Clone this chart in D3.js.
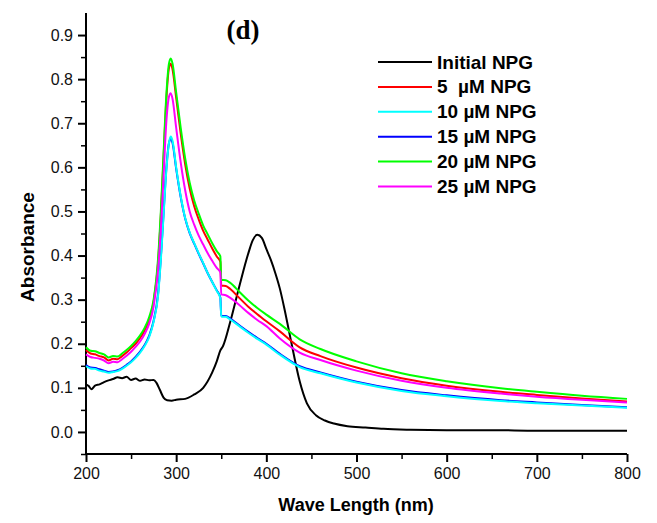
<!DOCTYPE html>
<html>
<head>
<meta charset="utf-8">
<script src="https://cdn.jsdelivr.net/npm/d3@7"></script>
<style>
  body { margin: 0; background: #fff; }
  svg { display: block; }
  .tick text { font-family: "Liberation Sans", Arial, sans-serif; font-size: 16px; fill: #111; }
</style>
</head>
<body>
<svg id="chart" width="657" height="523"></svg>
<script>
// wavelengths shared by the NPG-added spectra
const wl = [200, 205, 210, 215, 220, 225, 230, 235, 240, 245, 250, 255, 260, 265, 270, 275, 280,
  283, 286, 289, 292, 294, 296, 300, 305, 310, 315, 320, 325, 330, 335, 340, 345, 349, 350,
  355, 360, 370, 380, 390, 400, 415, 437, 460, 500, 550, 600, 660, 700, 750, 800];

const red5 = [.186, .178, .176, .172, .169, .162, .166, .165, .172, .18, .19, .2, .213, .23, .254, .295, .385,
  .49, .62, .75, .825, .835, .822, .758, .677, .607, .552, .512, .482, .456, .436, .416, .398, .386, .332,
  .331, .324, .304, .284, .267, .251, .228, .192, .172, .146, .122, .105, .091, .084, .076, .069];
const cyan10 = [.149, .144, .143, .139, .137, .134, .136, .138, .143, .15, .158, .168, .18, .195, .215, .25, .31,
  .39, .49, .59, .655, .67, .66, .6, .535, .485, .452, .428, .405, .383, .36, .34, .32, .303, .262,
  .261, .255, .24, .225, .211, .198, .175, .147, .133, .112, .093, .081, .07, .065, .06, .055];
const blue15 = [.152, .146, .145, .142, .139, .136, .137, .14, .145, .152, .16, .17, .182, .197, .218, .252, .315,
  .395, .495, .595, .655, .665, .655, .597, .533, .484, .451, .427, .404, .382, .36, .34, .321, .305, .263,
  .263, .257, .242, .227, .213, .2, .177, .149, .135, .114, .095, .083, .072, .067, .061, .056];
const green20 = [.192, .184, .183, .179, .176, .169, .172, .171, .178, .186, .195, .206, .219, .236, .26, .3, .395,
  .5, .63, .76, .835, .847, .835, .77, .69, .62, .565, .525, .495, .468, .448, .428, .41, .398, .345,
  .344, .338, .318, .298, .281, .266, .245, .21, .188, .16, .133, .115, .099, .091, .082, .075];
const magenta25 = [.176, .17, .168, .166, .162, .156, .159, .158, .165, .173, .182, .193, .205, .222, .245, .285, .37,
  .46, .58, .7, .76, .768, .755, .69, .612, .548, .5, .47, .445, .425, .405, .388, .372, .362, .312,
  .31, .304, .288, .27, .254, .24, .212, .18, .163, .139, .116, .1, .087, .08, .073, .067];

// initial NPG spectrum
const wlInit = [200, 203, 206, 210, 215, 220, 225, 230, 235, 240, 245, 250, 255, 260, 265, 270, 275, 278,
  282, 286, 290, 295, 300, 310, 320, 330, 340, 345, 349, 352, 360, 370, 380, 385, 390, 395, 400, 405,
  410, 415, 420, 425, 430, 437, 445, 455, 465, 475, 490, 510, 530, 560, 600, 650, 700, 750, 800];
const initial = [.108, .104, .097, .105, .108, .113, .117, .12, .124, .122, .125, .118, .121, .116, .119, .117, .118, .112,
  .095, .078, .072, .071, .073, .075, .085, .1, .135, .16, .185, .195, .25, .33, .405, .435, .447, .44, .415, .39,
  .36, .325, .28, .23, .18, .115, .065, .038, .026, .019, .013, .01, .007, .005, .004, .004, .003, .003, .003];

const seriesNames = ['Initial NPG', '5  \u00b5M NPG', '10 \u00b5M NPG', '15 \u00b5M NPG', '20 \u00b5M NPG', '25 \u00b5M NPG'];
const seriesColors = ['#000000', '#ff0000', '#00ffff', '#0000ff', '#00ff00', '#ff00ff'];
const xTicks = [200, 300, 400, 500, 600, 700, 800];
const yTicks = [0.0, 0.1, 0.2, 0.3, 0.4, 0.5, 0.6, 0.7, 0.8, 0.9];

const series = [
  { name: seriesNames[0], color: seriesColors[0], x: wlInit, y: initial },
  { name: seriesNames[1], color: seriesColors[1], x: wl, y: red5 },
  { name: seriesNames[2], color: seriesColors[2], x: wl, y: cyan10 },
  { name: seriesNames[3], color: seriesColors[3], x: wl, y: blue15 },
  { name: seriesNames[4], color: seriesColors[4], x: wl, y: green20 },
  { name: seriesNames[5], color: seriesColors[5], x: wl, y: magenta25 }
];

const svg = d3.select('#chart');
const plotL = 86, plotR = 627, plotT = 13, plotB = 454;

const x = d3.scaleLinear().domain([200, 800]).range([plotL, plotR]);
const y = d3.scaleLinear().domain([-0.05, 0.95]).range([plotB, plotT]);

// minor ticks
const xMinor = d3.range(250, 800, 100);
const yMinor = d3.range(-0.05, 0.95, 0.1);

svg.append('g')
  .attr('transform', `translate(0,${plotB})`)
  .call(d3.axisBottom(x).tickValues(xMinor).tickSize(5).tickFormat(''))
  .call(g => g.select('.domain').remove())
  .selectAll('line').attr('stroke', '#000').attr('stroke-width', 1.5);

svg.append('g')
  .attr('transform', `translate(${plotL},0)`)
  .call(d3.axisLeft(y).tickValues(yMinor).tickSize(5).tickFormat(''))
  .call(g => g.select('.domain').remove())
  .selectAll('line').attr('stroke', '#000').attr('stroke-width', 1.5);

const xAxis = svg.append('g')
  .attr('transform', `translate(0,${plotB})`)
  .call(d3.axisBottom(x).tickValues(xTicks).tickSize(8).tickSizeOuter(0).tickPadding(6).tickFormat(d3.format('d')));

const yAxis = svg.append('g')
  .attr('transform', `translate(${plotL},0)`)
  .call(d3.axisLeft(y).tickValues(yTicks).tickSize(8).tickSizeOuter(0).tickPadding(5).tickFormat(d3.format('.1f')));

[xAxis, yAxis].forEach(a => {
  a.select('.domain').attr('stroke', '#000').attr('stroke-width', 2);
  a.selectAll('.tick line').attr('stroke', '#000').attr('stroke-width', 2);
});
// draw full axis lines across the range
xAxis.select('.domain').attr('d', `M${plotL},0H${plotR}`);
yAxis.select('.domain').attr('d', `M0,${plotT}V${plotB}`);

const line = d3.line().curve(d3.curveMonotoneX);

const drawOrder = [0, 1, 3, 2, 4, 5];
drawOrder.forEach(i => {
  const s = series[i];
  svg.append('path')
    .attr('fill', 'none')
    .attr('stroke', s.color)
    .attr('stroke-width', 2)
    .attr('stroke-linejoin', 'round')
    .attr('d', line(s.x.map((v, j) => [x(v), y(s.y[j])])));
});

// legend
const legend = svg.append('g');
series.forEach((s, i) => {
  const ly = 62 + i * 24.9;
  legend.append('line')
    .attr('x1', 378).attr('x2', 432).attr('y1', ly).attr('y2', ly)
    .attr('stroke', s.color).attr('stroke-width', 2);
  legend.append('text')
    .attr('x', 437).attr('y', ly + 6.5)
    .attr('font-family', '"Liberation Sans", Arial, sans-serif')
    .attr('font-weight', 'bold').attr('font-size', 19)
    .attr('xml:space', 'preserve')
    .style('white-space', 'pre')
    .text(s.name);
});

svg.append('text')
  .attr('x', 243).attr('y', 39)
  .attr('text-anchor', 'middle')
  .attr('font-family', '"Liberation Serif", "Times New Roman", serif')
  .attr('font-weight', 'bold').attr('font-size', 27)
  .text('(d)');

svg.append('text')
  .attr('x', 356).attr('y', 511)
  .attr('text-anchor', 'middle')
  .attr('font-family', '"Liberation Sans", Arial, sans-serif')
  .attr('font-weight', 'bold').attr('font-size', 18)
  .text('Wave Length (nm)');

svg.append('text')
  .attr('transform', 'translate(34,247) rotate(-90)')
  .attr('text-anchor', 'middle')
  .attr('font-family', '"Liberation Sans", Arial, sans-serif')
  .attr('font-weight', 'bold').attr('font-size', 19)
  .text('Absorbance');
</script>
</body>
</html>
